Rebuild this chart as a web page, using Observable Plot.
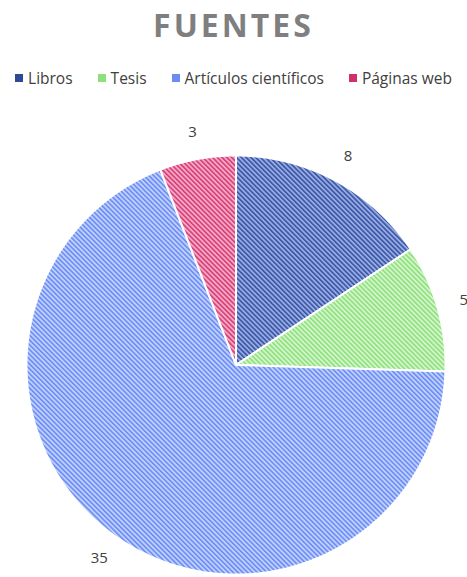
<!DOCTYPE html>
<html><head><meta charset="utf-8">
<script src="https://cdn.jsdelivr.net/npm/d3@7"></script>
<script src="https://cdn.jsdelivr.net/npm/@observablehq/plot@0.6"></script>
<style>
body{margin:0;background:#fff;width:467px;height:577px;position:relative;overflow:hidden;font-family:"Open Sans",sans-serif;}
#title{position:absolute;top:0;left:0;width:467px;height:50px;line-height:50px;text-align:center;font-weight:700;font-size:32px;letter-spacing:3px;color:#7f7f7f;}
#legend{position:absolute;top:66px;left:0;width:467px;height:24px;display:flex;justify-content:center;align-items:center;gap:25px;font-size:15.5px;color:#404040;}
#legend .item{display:flex;align-items:center;gap:5px;white-space:nowrap;}
#legend .sw{width:8px;height:8px;display:inline-block;}
#chart{position:absolute;top:100px;left:0;}
</style>
</head><body>
<div id="title">FUENTES</div>
<div id="legend"></div>
<div id="chart"></div>
<script>
const categories = ["Libros", "Tesis", "Artículos científicos", "Páginas web"];
const values = [8, 5, 35, 3];
const stripeColors = ["#3a55a5", "#8fe07e", "#6b8cf5", "#d63f78"];
const baseColors = ["#97abe3", "#d2f5ca", "#c0d0fd", "#f6a8c5"];
const legendColors = ["#2e4a94", "#8ee07c", "#6b8cf5", "#d12f6a"];

// legend
const leg = document.getElementById("legend");
categories.forEach((c, i) => {
  const it = document.createElement("span");
  it.className = "item";
  it.innerHTML = `<span class="sw" style="background:${legendColors[i]}"></span><span>${c}</span>`;
  leg.appendChild(it);
});

// pie geometry from data
const arcs = d3.pie().sort(null).value(d => d)(values);
const poly = [];
const labels = [];
arcs.forEach((a, i) => {
  const name = categories[i];
  poly.push({name, x: 0, y: 0});
  const n = Math.max(2, Math.ceil((a.endAngle - a.startAngle) / (Math.PI / 360)));
  for (let k = 0; k <= n; k++) {
    const t = a.startAngle + (a.endAngle - a.startAngle) * k / n;
    poly.push({name, x: Math.sin(t), y: Math.cos(t)});
  }
  const m = (a.startAngle + a.endAngle) / 2;
  labels.push({name, value: values[i], x: 1.13 * Math.sin(m), y: 1.13 * Math.cos(m)});
});

const W = 467, H = 477, R = 209.5, cx = 235.5, cy = 264.5;
const svg = Plot.plot({
  width: W, height: H,
  margin: 0,
  x: {domain: [-cx / R, (W - cx) / R], axis: null},
  y: {domain: [-(H - cy) / R, cy / R], axis: null},
  color: {domain: categories, range: categories.map((_, i) => `url(#hatch${i})`)},
  style: {fontFamily: "'Open Sans', sans-serif", background: "transparent"},
  marks: [
    Plot.line(poly, {x: "x", y: "y", z: "name", fill: "name", stroke: "white", strokeWidth: 2, strokeLinejoin: "miter", curve: "linear-closed"}),
    Plot.text(labels, {x: "x", y: "y", text: d => String(d.value), fontSize: 15, fill: "#404040"})
  ]
});

const defs = d3.select(svg).insert("defs", ":first-child");
categories.forEach((c, i) => {
  const p = defs.append("pattern")
    .attr("id", `hatch${i}`)
    .attr("patternUnits", "userSpaceOnUse")
    .attr("width", 3.4).attr("height", 3.4)
    .attr("patternTransform", "rotate(-45)");
  p.append("rect").attr("width", 3.4).attr("height", 3.4).attr("fill", baseColors[i]);
  p.append("rect").attr("width", 1.6).attr("height", 3.4).attr("fill", stripeColors[i]);
});

document.getElementById("chart").appendChild(svg);
</script>
</body></html>
